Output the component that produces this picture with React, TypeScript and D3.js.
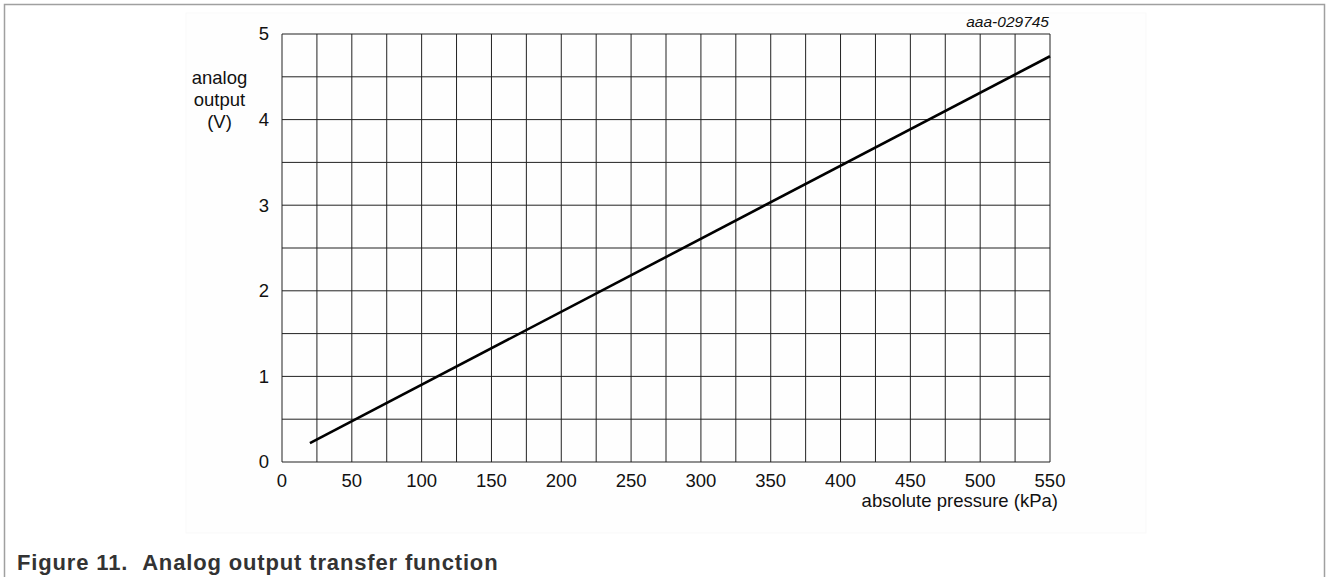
import React from "react";
import * as d3 from "d3";

const pressureKPa: number[] = [20, 550];
const outputV: number[] = [0.22, 4.74];
const xTicks: number[] = [0, 50, 100, 150, 200, 250, 300, 350, 400, 450, 500, 550];
const yTicks: number[] = [0, 1, 2, 3, 4, 5];
const yLabelLines: string[] = ["analog", "output", "(V)"];
const xLabel = "absolute pressure (kPa)";
const figureId = "aaa-029745";
const caption = "Figure 11.\u00a0\u00a0Analog output transfer function";

const W = 1328;
const H = 577;
const M = { left: 282, right: 1050, top: 34, bottom: 462 };

export default function App() {
  const x = d3.scaleLinear().domain([0, 550]).range([M.left, M.right]);
  const y = d3.scaleLinear().domain([0, 5]).range([M.bottom, M.top]);
  const xGrid = d3.range(0, 550 + 0.001, 25);
  const yGrid = d3.range(0, 5 + 0.001, 0.5);
  const pts = pressureKPa.map((p, i) => [p, outputV[i]] as [number, number]);
  const line = d3
    .line<[number, number]>()
    .x((d) => x(d[0]))
    .y((d) => y(d[1]));
  const font = "Arial, 'Liberation Sans', Helvetica, sans-serif";

  return (
    <svg
      width={W}
      height={H}
      style={{ position: "absolute", left: 0, top: 0, display: "block", background: "#fff" }}
      fontFamily={font}
    >
      <path d={`M4.5,${H} V4.5 H1324.5 V${H}`} fill="none" stroke="#a0a0a0" strokeWidth={1.5} />
      <rect x={186} y={13} width={960} height={520} fill="#fefefe" stroke="#f9f9f9" strokeWidth={1} />
      {xGrid.map((v) => (
        <line key={"vx" + v} x1={x(v)} x2={x(v)} y1={M.top} y2={M.bottom} stroke="#222" strokeWidth={1} />
      ))}
      {yGrid.map((v) => (
        <line key={"hy" + v} x1={M.left} x2={M.right} y1={y(v)} y2={y(v)} stroke="#222" strokeWidth={1} />
      ))}
      <path d={line(pts) || ""} fill="none" stroke="#000" strokeWidth={2.6} />
      {yTicks.map((v) => (
        <text key={"yt" + v} x={269} y={y(v)} dy="0.35em" textAnchor="end" fontSize={18.5} fill="#111">
          {v}
        </text>
      ))}
      {xTicks.map((v) => (
        <text key={"xt" + v} x={x(v)} y={487} textAnchor="middle" fontSize={18.5} fill="#111">
          {v}
        </text>
      ))}
      {yLabelLines.map((s, i) => (
        <text key={"yl" + i} x={219.5} y={84 + i * 22} textAnchor="middle" fontSize={18.5} fill="#111">
          {s}
        </text>
      ))}
      <text x={1058} y={507} textAnchor="end" fontSize={18.5} fill="#111">
        {xLabel}
      </text>
      <text x={1049} y={27} textAnchor="end" fontSize={15.5} fontStyle="italic" fill="#111">
        {figureId}
      </text>
      <text x={17} y={570} fontSize={22} fontWeight="bold" letterSpacing={0.85} fill="#333">
        {caption}
      </text>
    </svg>
  );
}
